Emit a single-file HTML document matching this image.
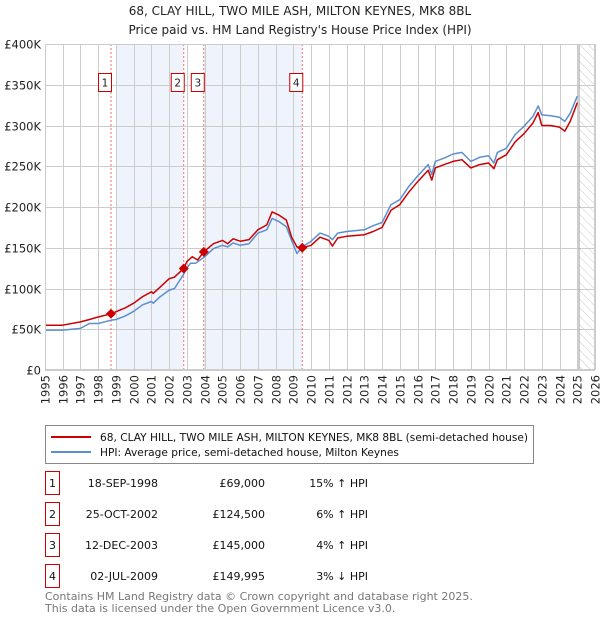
<!DOCTYPE html>
<html><head><meta charset="utf-8"><style>
body{margin:0;background:#fff;}
svg text{font-family:"DejaVu Sans","Liberation Sans",sans-serif;}
</style></head><body>
<svg width="600" height="620" viewBox="0 0 600 620" xmlns="http://www.w3.org/2000/svg">
<defs><pattern id="hatch" width="6" height="6" patternUnits="userSpaceOnUse" patternTransform="rotate(-45)"><line x1="0" y1="0" x2="0" y2="6" stroke="#bbb" stroke-width="0.8"/></pattern></defs>
<text x="300" y="15" text-anchor="middle" font-size="12" fill="#222">68, CLAY HILL, TWO MILE ASH, MILTON KEYNES, MK8 8BL</text>
<text x="300" y="34" text-anchor="middle" font-size="12" fill="#222">Price paid vs. HM Land Registry's House Price Index (HPI)</text>
<g id="plot"></g>
<g id="legend">
<rect x="45.5" y="425.5" width="488" height="38" fill="#fff" stroke="#888"/>
<line x1="51" y1="437" x2="91" y2="437" stroke="#cc0000" stroke-width="2"/>
<text x="100" y="441" font-size="10.6" fill="#111">68, CLAY HILL, TWO MILE ASH, MILTON KEYNES, MK8 8BL (semi-detached house)</text>
<line x1="51" y1="452" x2="91" y2="452" stroke="#5b8fd0" stroke-width="2"/>
<text x="100" y="456" font-size="10.6" fill="#111">HPI: Average price, semi-detached house, Milton Keynes</text>
</g>
<g id="table" font-size="11" fill="#111"></g>
<text x="45" y="600" font-size="11" fill="#777">Contains HM Land Registry data © Crown copyright and database right 2025.</text>
<text x="45" y="612" font-size="11" fill="#777">This data is licensed under the Open Government Licence v3.0.</text>
</svg>
<script>
const hpiYears=[1995,1996,1997,1997.5,1998,1998.7,1999,1999.5,2000,2000.5,2001,2001.1,2001.5,2002,2002.3,2002.8,2003,2003.2,2003.5,2004,2004.5,2005,2005.3,2005.6,2006,2006.5,2007,2007.5,2007.8,2008.2,2008.6,2008.9,2009.2,2009.5,2010,2010.5,2011,2011.2,2011.5,2012,2012.5,2013,2013.5,2014,2014.5,2015,2015.5,2016,2016.6,2016.8,2017,2017.5,2018,2018.5,2019,2019.5,2020,2020.3,2020.5,2021,2021.5,2022,2022.5,2022.8,2023,2023.5,2024,2024.3,2024.6,2025.0];
const hpiValues=[49,49,51,57,57,61,62,66,72,80,84,82,90,98,100,117,125,131,131,139,149,153,151,156,153,155,168,172,186,182,176,159,143,151,158,168,164,160,168,170,171,172,177,181,203,209,225,238,252,240,256,260,265,267,256,261,263,254,267,272,289,299,311,324,313,312,310,305,315,336];
const propYears=[1995,1996,1997,1997.5,1998,1998.72,1999.5,2000,2000.5,2001,2001.1,2001.5,2002,2002.3,2002.82,2003,2003.3,2003.6,2003.95,2004.5,2005,2005.3,2005.6,2006,2006.5,2007,2007.5,2007.8,2008.2,2008.6,2008.9,2009.2,2009.5,2010,2010.5,2011,2011.2,2011.5,2012,2012.5,2013,2013.5,2014,2014.5,2015,2015.5,2016,2016.6,2016.8,2017,2017.5,2018,2018.5,2019,2019.5,2020,2020.3,2020.5,2021,2021.5,2022,2022.5,2022.8,2023,2023.5,2024,2024.3,2024.6,2025.0];
const propValues=[55,55,59,62,65,69,76,82,90,96,94,102,112,114,124.5,133,139,135,145,155,159,155,161,158,160,172,178,194,190,184,163,151,150,153,163,159,152,162,164,165,166,170,175,196,203,218,231,245,233,248,252,256,258,248,252,254,247,258,264,280,290,303,316,300,300,298,293,305,328];
const saleLabels=["1","2","3","4"];
const saleYears=[1998.72,2002.82,2003.95,2009.5];
const salePrices=[69,124.5,145,149.995];
const saleDates=["18-SEP-1998","25-OCT-2002","12-DEC-2003","02-JUL-2009"];
const salePriceText=["£69,000","£124,500","£145,000","£149,995"];
const saleHpiText=["15% ↑ HPI","6% ↑ HPI","4% ↑ HPI","3% ↓ HPI"];
const yTicks=[0,50,100,150,200,250,300,350,400];
const yTickLabels=["£0","£50K","£100K","£150K","£200K","£250K","£300K","£350K","£400K"];
const xTickYears=[1995,1996,1997,1998,1999,2000,2001,2002,2003,2004,2005,2006,2007,2008,2009,2010,2011,2012,2013,2014,2015,2016,2017,2018,2019,2020,2021,2022,2023,2024,2025,2026];

const NS="http://www.w3.org/2000/svg";
const X0=45,X1=595,Y0=370,Y1=44;
const xs=y=>X0+(y-1995)/(2026-1995)*(X1-X0);
const ys=v=>Y0-v/400*(Y0-Y1);
const plot=document.getElementById('plot');
function mk(tag,attrs,parent){const e=document.createElementNS(NS,tag);for(const k in attrs)e.setAttribute(k,attrs[k]);(parent||plot).appendChild(e);return e;}

let r=mk('rect',{x:X0,y:Y1,width:X1-X0,height:Y0-Y1,fill:'#fff'});


r=mk('rect',{x:xs(saleYears[0])+5,y:Y1,width:xs(saleYears[1])-xs(saleYears[0])-5,height:Y0-Y1,fill:'#eef3fc'});


r=mk('rect',{x:xs(saleYears[2]),y:Y1,width:xs(saleYears[3])-xs(saleYears[2]),height:Y0-Y1,fill:'#eef3fc'});


r=mk('rect',{x:xs(2025.1),y:Y1,width:X1-xs(2025.1),height:Y0-Y1,fill:'url(#hatch)'});


xTickYears.forEach((yr,i)=>{
  const x=Math.round(xs(yr))+0.5;
  mk('line',{x1:x,y1:Y1,x2:x,y2:Y0,stroke:'#ccc','stroke-width':1});
  const t=mk('text',{x:0,y:0,'font-size':11.5,fill:'#222','text-anchor':'end',transform:`translate(${x+4},${Y0+5}) rotate(-90)`});
  t.textContent=yr;
  
  
});
yTicks.forEach((v,i)=>{
  const y=Math.round(ys(v))+0.5;
  mk('line',{x1:X0,y1:y,x2:X1,y2:y,stroke:'#ccc','stroke-width':1});
  const t=mk('text',{x:X0-4,y:y+4,'font-size':11.5,fill:'#222','text-anchor':'end'});
  t.textContent=yTickLabels[i];
  
  
});
mk('line',{x1:xs(2025.1),y1:Y1,x2:xs(2025.1),y2:Y0,stroke:'#999','stroke-width':1});
saleYears.forEach((yr,i)=>{
  const x=xs(yr);
  const l=mk('line',{x1:x,y1:Y1,x2:x,y2:Y0,stroke:'#f07070','stroke-width':1,'stroke-dasharray':'2,2'});
  
  
  const b=mk('rect',{x:x-12.5,y:73.5,width:13,height:18,fill:'#fff',stroke:'#cc0000'});
  
  
  const t=mk('text',{x:x-6,y:86.5,'font-size':10.5,fill:'#222','text-anchor':'middle'});
  t.textContent=saleLabels[i];
  
  
});
function path(xsArr,vals,color,name){
  const d=xsArr.map((y,i)=>(i?'L':'M')+xs(y).toFixed(1)+','+ys(vals[i]).toFixed(1)).join('');
  const p=mk('path',{d:d,fill:'none',stroke:color,'stroke-width':1.5,'stroke-linejoin':'round'});
  
  
}
path(hpiYears,hpiValues,'#5b8fd0','hpi-line');
path(propYears,propValues,'#cc0000','property-price-line');
saleYears.forEach((yr,i)=>{
  const x=xs(yr),y=ys(salePrices[i]);
  const d=mk('path',{d:`M${x},${y-5}L${x+5},${y}L${x},${y+5}L${x-5},${y}Z`,fill:'#cc0000'});
  
  
});
mk('rect',{x:X0+0.5,y:Y1+0.5,width:X1-X0-1,height:Y0-Y1-1,fill:'none',stroke:'#ccc'});
const tb=document.getElementById('table');
saleLabels.forEach((lab,i)=>{
  const cy=483+i*31;
  const b=mk('rect',{x:45.5,y:cy-11.5,width:14,height:23,fill:'#fff',stroke:'#cc0000'},tb);
  
  
  const cells=[[52.5,lab,'middle','table-row-number'],[158,saleDates[i],'end','table-date'],[265,salePriceText[i],'end','table-price'],[368,saleHpiText[i],'end','table-hpi-diff']];
  cells.forEach(c=>{
    const t=mk('text',{x:c[0],y:cy+4,'text-anchor':c[2],'font-size':11,fill:'#111'},tb);
    t.textContent=c[1];
    
    
  });
});
</script>
</body></html>
